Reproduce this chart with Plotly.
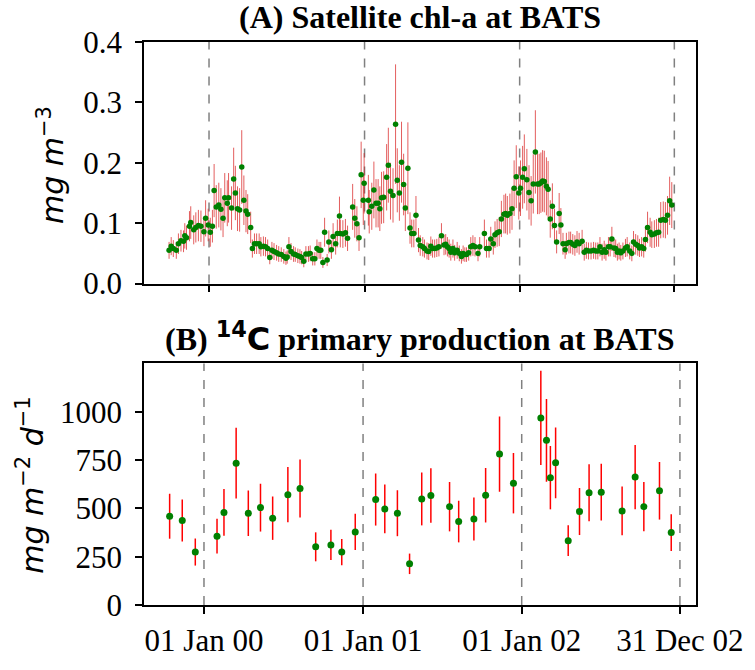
import pandas as pd
import plotly.graph_objects as go
from plotly.subplots import make_subplots

BASE_DATE = "2000-01-01"

# (A) satellite chl-a: day offset from 2000-01-01, value (mg m-3), error
chl_day = [-94, -89, -84, -77, -72, -66, -60, -57, -53, -46, -43, -36, -31, -25, -19, -12, -8, -2, 3, 8,
           12, 17, 23, 28, 33, 37, 43, 46, 53, 58, 62, 67, 72, 77, 82, 87, 91, 98, 102, 107,
           112, 118, 122, 128, 133, 138, 143, 148, 153, 159, 164, 170, 176, 181, 184, 188, 193, 199, 203, 209,
           214, 218, 223, 228, 234, 238, 244, 249, 254, 259, 263, 268, 272, 278, 282, 288, 292, 298, 302, 307,
           309, 315, 321, 326, 338, 343, 348, 353, 358, 363, 365, 375, 377, 383, 388, 393, 398, 402, 406, 411,
           418, 422, 427, 433, 439, 443, 448, 453, 458, 462, 468, 473, 477, 482, 487, 493, 497, 503, 507, 513,
           517, 522, 526, 531, 536, 541, 547, 553, 557, 561, 565, 569, 574, 578, 584, 589, 594, 598, 602, 606,
           611, 616, 621, 626, 633, 637, 648, 653, 659, 663, 669, 673, 678, 683, 688, 694, 698, 702, 708, 713,
           718, 723, 729, 733, 738, 742, 748, 753, 758, 763, 768, 773, 777, 781, 785, 789, 794, 798, 803, 808,
           813, 818, 824, 828, 833, 838, 841, 847, 851, 856, 861, 866, 871, 878, 883, 888, 893, 899, 905, 910,
           915, 920, 925, 930, 934, 940, 944, 948, 953, 957, 961, 965, 969, 974, 980, 984, 990, 995, 999, 1004,
           1009, 1013, 1018, 1023, 1027, 1032, 1038, 1042, 1048, 1053, 1058, 1063, 1069, 1074, 1079, 1084, 1089]
chl_val = [0.055, 0.062, 0.058, 0.055, 0.066, 0.071, 0.070, 0.079, 0.076, 0.095, 0.101, 0.089, 0.093, 0.096, 0.095, 0.086, 0.108, 0.097, 0.085, 0.095,
           0.154, 0.127, 0.130, 0.123, 0.108, 0.142, 0.133, 0.142, 0.125, 0.173, 0.150, 0.124, 0.122, 0.193, 0.138, 0.120, 0.115, 0.093, 0.058, 0.066,
           0.066, 0.066, 0.061, 0.062, 0.061, 0.058, 0.043, 0.055, 0.053, 0.051, 0.049, 0.048, 0.045, 0.042, 0.044, 0.061, 0.053, 0.049, 0.048, 0.046,
           0.045, 0.043, 0.037, 0.049, 0.049, 0.050, 0.041, 0.041, 0.058, 0.055, 0.055, 0.035, 0.085, 0.039, 0.069, 0.056, 0.078, 0.066, 0.083, 0.112,
           0.083, 0.082, 0.084, 0.075, 0.127, 0.108, 0.099, 0.076, 0.180, 0.138, 0.166, 0.138, 0.119, 0.128, 0.155, 0.133, 0.133, 0.124, 0.142, 0.143,
           0.176, 0.196, 0.153, 0.146, 0.264, 0.171, 0.150, 0.201, 0.164, 0.125, 0.191, 0.092, 0.083, 0.083, 0.113, 0.072, 0.063, 0.061, 0.058, 0.054,
           0.053, 0.062, 0.058, 0.058, 0.059, 0.061, 0.079, 0.064, 0.065, 0.061, 0.058, 0.052, 0.058, 0.051, 0.055, 0.050, 0.045, 0.050, 0.048, 0.048,
           0.051, 0.061, 0.063, 0.061, 0.050, 0.061, 0.083, 0.058, 0.058, 0.074, 0.066, 0.081, 0.084, 0.086, 0.107, 0.115, 0.116, 0.113, 0.116, 0.124,
           0.158, 0.177, 0.150, 0.158, 0.176, 0.190, 0.172, 0.151, 0.137, 0.165, 0.218, 0.165, 0.165, 0.167, 0.170, 0.169, 0.161, 0.156, 0.107, 0.128,
           0.096, 0.069, 0.116, 0.097, 0.066, 0.056, 0.066, 0.068, 0.068, 0.065, 0.063, 0.069, 0.066, 0.070, 0.052, 0.055, 0.054, 0.054, 0.055, 0.054,
           0.054, 0.061, 0.052, 0.056, 0.052, 0.061, 0.061, 0.074, 0.059, 0.058, 0.052, 0.054, 0.051, 0.054, 0.059, 0.061, 0.054, 0.050, 0.069, 0.065,
           0.063, 0.059, 0.061, 0.058, 0.073, 0.093, 0.085, 0.081, 0.082, 0.084, 0.085, 0.105, 0.106, 0.105, 0.113, 0.137, 0.130]
chl_err = [0.014, 0.015, 0.014, 0.014, 0.017, 0.018, 0.018, 0.021, 0.020, 0.025, 0.027, 0.024, 0.025, 0.026, 0.026, 0.024, 0.030, 0.027, 0.024, 0.027,
           0.044, 0.036, 0.037, 0.035, 0.031, 0.041, 0.038, 0.041, 0.036, 0.052, 0.045, 0.037, 0.036, 0.061, 0.041, 0.035, 0.033, 0.026, 0.015, 0.017,
           0.017, 0.017, 0.016, 0.016, 0.016, 0.015, 0.011, 0.014, 0.014, 0.013, 0.013, 0.012, 0.012, 0.011, 0.011, 0.016, 0.014, 0.013, 0.012, 0.012,
           0.012, 0.011, 0.010, 0.013, 0.013, 0.013, 0.011, 0.011, 0.015, 0.014, 0.014, 0.009, 0.024, 0.010, 0.019, 0.015, 0.022, 0.018, 0.023, 0.032,
           0.023, 0.023, 0.023, 0.021, 0.038, 0.032, 0.029, 0.022, 0.055, 0.041, 0.050, 0.042, 0.036, 0.039, 0.047, 0.040, 0.040, 0.037, 0.043, 0.043,
           0.055, 0.062, 0.047, 0.045, 0.099, 0.053, 0.046, 0.067, 0.051, 0.038, 0.076, 0.026, 0.023, 0.023, 0.032, 0.020, 0.017, 0.016, 0.015, 0.014,
           0.014, 0.016, 0.015, 0.015, 0.015, 0.016, 0.021, 0.017, 0.017, 0.016, 0.015, 0.014, 0.015, 0.013, 0.014, 0.013, 0.012, 0.013, 0.012, 0.012,
           0.013, 0.016, 0.017, 0.016, 0.013, 0.016, 0.023, 0.015, 0.015, 0.020, 0.018, 0.022, 0.023, 0.024, 0.030, 0.032, 0.033, 0.032, 0.033, 0.035,
           0.046, 0.052, 0.044, 0.046, 0.052, 0.057, 0.051, 0.045, 0.041, 0.049, 0.069, 0.050, 0.050, 0.050, 0.051, 0.051, 0.048, 0.047, 0.031, 0.038,
           0.028, 0.019, 0.034, 0.028, 0.018, 0.015, 0.018, 0.018, 0.018, 0.017, 0.017, 0.018, 0.018, 0.019, 0.014, 0.014, 0.014, 0.014, 0.014, 0.014,
           0.014, 0.016, 0.014, 0.015, 0.014, 0.016, 0.016, 0.020, 0.015, 0.015, 0.014, 0.014, 0.013, 0.014, 0.015, 0.016, 0.014, 0.013, 0.018, 0.017,
           0.017, 0.015, 0.016, 0.015, 0.020, 0.026, 0.024, 0.022, 0.023, 0.023, 0.024, 0.030, 0.030, 0.030, 0.032, 0.040, 0.038]

# (B) 14C primary production: day offset, value (mg m-2 d-1), error
pp_day = [-79, -50, -20, 30, 46, 74, 102, 130, 158, 193, 221, 257, 292, 317, 348, 395, 416, 445, 473, 501,
          522, 565, 586, 621, 648, 680, 712, 775, 788, 797, 809, 838, 864, 886, 914, 962, 992, 1012, 1048, 1075]
pp_val = [459, 437, 274, 356, 479, 734, 475, 504, 449, 571, 603, 301, 311, 274, 378, 546, 497, 475, 213, 549,
          566, 509, 432, 445, 568, 781, 630, 968, 852, 659, 736, 333, 484, 581, 584, 487, 662, 509, 591, 375]
pp_err = [116, 109, 70, 90, 121, 183, 118, 124, 112, 143, 150, 75, 78, 68, 94, 135, 126, 119, 53, 137,
          141, 128, 108, 111, 141, 195, 156, 244, 214, 164, 183, 80, 122, 147, 147, 126, 166, 128, 149, 95]

ref_dates = ["2000-01-01", "2001-01-01", "2002-01-01", "2002-12-31"]
ref_labels = ["01 Jan 00", "01 Jan 01", "01 Jan 02", "31 Dec 02"]
chl_yticks = [0.0, 0.1, 0.2, 0.3, 0.4]
pp_yticks = [0, 250, 500, 750, 1000]

base = pd.Timestamp(BASE_DATE)
chl_x = base + pd.to_timedelta(chl_day, unit="D")
pp_x = base + pd.to_timedelta(pp_day, unit="D")

SERIF = "Liberation Serif"
SANS = "DejaVu Sans"
TICK_SIZE = 31

fig = make_subplots(rows=2, cols=1)

fig.add_trace(go.Scatter(
    x=chl_x, y=chl_val, mode="markers",
    marker=dict(color="#008000", size=5.5),
    error_y=dict(type="data", array=chl_err, color="rgba(215,25,25,0.7)", thickness=1, width=0),
    showlegend=False), row=1, col=1)

fig.add_trace(go.Scatter(
    x=pp_x, y=pp_val, mode="markers",
    marker=dict(color="#008000", size=7),
    error_y=dict(type="data", array=pp_err, color="#ff0000", thickness=1.5, width=0),
    showlegend=False), row=2, col=1)

shapes = []
for xr, yr in (("x", "y domain"), ("x2", "y2 domain")):
    for d in ref_dates:
        shapes.append(dict(type="line", xref=xr, yref=yr, x0=d, x1=d, y0=0, y1=1,
                           line=dict(color="gray", width=1.5, dash="dash"), layer="below"))

axis_common = dict(showline=True, linecolor="black", linewidth=1.5, mirror=True,
                   ticks="outside", ticklen=7, tickwidth=1.5, tickcolor="black",
                   showgrid=False, zeroline=False,
                   tickfont=dict(family=SERIF, size=TICK_SIZE, color="black"))

fig.update_layout(
    width=755, height=670,
    margin=dict(l=144, r=51, t=42, b=50),
    paper_bgcolor="white", plot_bgcolor="white",
    shapes=shapes,
    xaxis=dict(domain=[0, 1], range=["1999-08-01", "2003-02-20"], tickvals=ref_dates,
               showticklabels=False, **axis_common),
    yaxis=dict(domain=[0.5709, 1], range=[0, 0.4], tickvals=chl_yticks, tickformat=".1f",
               ticklabelstandoff=7, **axis_common),
    xaxis2=dict(domain=[0, 1], range=["1999-08-16", "2003-02-06"], tickvals=ref_dates,
                ticktext=ref_labels, **axis_common),
    yaxis2=dict(domain=[0, 0.4291], range=[0, 1250], tickvals=pp_yticks,
                ticklabelstandoff=7, **axis_common),
    annotations=[
        dict(text="<b>(A) Satellite chl-a at BATS</b>", xref="paper", yref="paper",
             x=0.5, y=(620 - 16) / 578, xanchor="center", yanchor="middle", showarrow=False,
             font=dict(family=SERIF, size=32, color="black")),
        dict(text="<b>(B) <span style=\"font-family:'DejaVu Sans'\"><sup>14</sup>C</span> primary production at BATS</b>",
             xref="paper", yref="paper",
             x=0.5, y=(620 - 345) / 578, xanchor="center", yanchor="middle", showarrow=False,
             font=dict(family=SERIF, size=32, color="black")),
        dict(text="<i>mg m</i><sup>\u22123</sup>", xref="paper", yref="paper",
             x=(50 - 144) / 560, y=(620 - 168) / 578, xanchor="center", yanchor="middle",
             textangle=-90, showarrow=False, font=dict(family=SANS, size=30, color="black")),
        dict(text="<i>mg m</i><sup>\u22122</sup> <i>d</i><sup>\u22121</sup>", xref="paper", yref="paper",
             x=(29 - 144) / 560, y=(620 - 497) / 578, xanchor="center", yanchor="middle",
             textangle=-90, showarrow=False, font=dict(family=SANS, size=30, color="black")),
    ],
)

fig.write_html("out.html", config={"displayModeBar": False},
               post_script="document.body.style.margin='0px';document.body.style.overflow='hidden';")
